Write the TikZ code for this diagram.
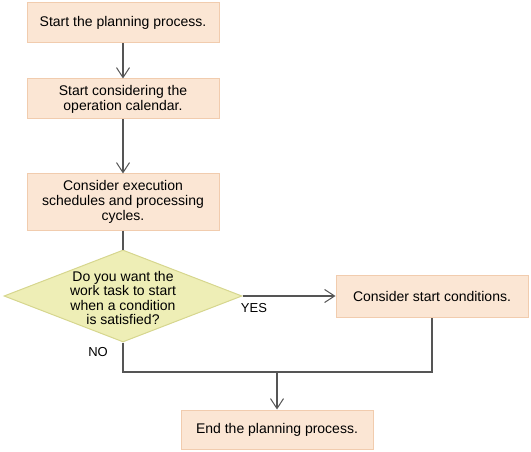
\documentclass[tikz,border=0pt]{standalone}
\usepackage{fontspec}
\setmainfont{Liberation Sans}
\usetikzlibrary{arrows.meta,shapes.geometric}
\definecolor{boxfill}{HTML}{FBE6D4}
\definecolor{boxline}{HTML}{F1CCAE}
\definecolor{dfill}{HTML}{EEEEB6}
\definecolor{dline}{HTML}{D6D68E}
\definecolor{conn}{HTML}{555555}
\begin{document}
\begin{tikzpicture}[x=1pt,y=-1pt,
  stepbox/.style={rectangle,draw=boxline,fill=boxfill,line width=1pt,minimum width=192pt,minimum height=40pt,inner sep=0pt,align=center,font=\fontsize{14}{15}\selectfont},
  decision/.style={diamond,draw=dline,fill=dfill,line width=1pt,minimum width=238pt,minimum height=92pt,inner sep=0pt},
  txt/.style={align=center,inner sep=0pt,font=\fontsize{14}{14.5}\selectfont},
  lbl/.style={inner sep=0pt,font=\fontsize{13}{14}\selectfont},
  conline/.style={draw=conn,line width=1.1pt},
  arr/.style={conline,-{Straight Barb[length=10pt,width=13pt,line width=1pt]}}]
\useasboundingbox (0,0) rectangle (531,452);
\node[stepbox] (b1) at (123,23) {Start the planning process.};
\node[stepbox] (b2) at (123,99) {Start considering the\\operation calendar.};
\node[stepbox,minimum height=56pt] (b3) at (123,202) {Consider execution\\schedules and processing\\cycles.};
\node[decision] (d) at (123,296) {};
\node[txt] (dt) at (123,298) {Do you want the\\work task to start\\when a condition\\is satisfied?};
\node[stepbox,minimum height=42pt] (b4) at (432,296) {Consider start conditions.};
\node[stepbox,minimum height=39pt] (b5) at (277,429.5) {End the planning process.};
\coordinate (jl) at (123,372);
\coordinate (jm) at (277,372);
\coordinate (jr) at (432,372);
\draw[arr] (b1.south) -- (b2.north);
\draw[arr] (b2.south) -- (b3.north);
\draw[conline] (b3.south) -- (d.north);
\draw[arr] (d.east) -- (b4.west);
\draw[conline] (d.south) -- (jl) -- (jr) -- (b4.south);
\draw[arr] (jm) -- (b5.north);
\node[lbl] (yes) at (254,308) {YES};
\node[lbl] (no) at (98,352) {NO};
\end{tikzpicture}
\end{document}
